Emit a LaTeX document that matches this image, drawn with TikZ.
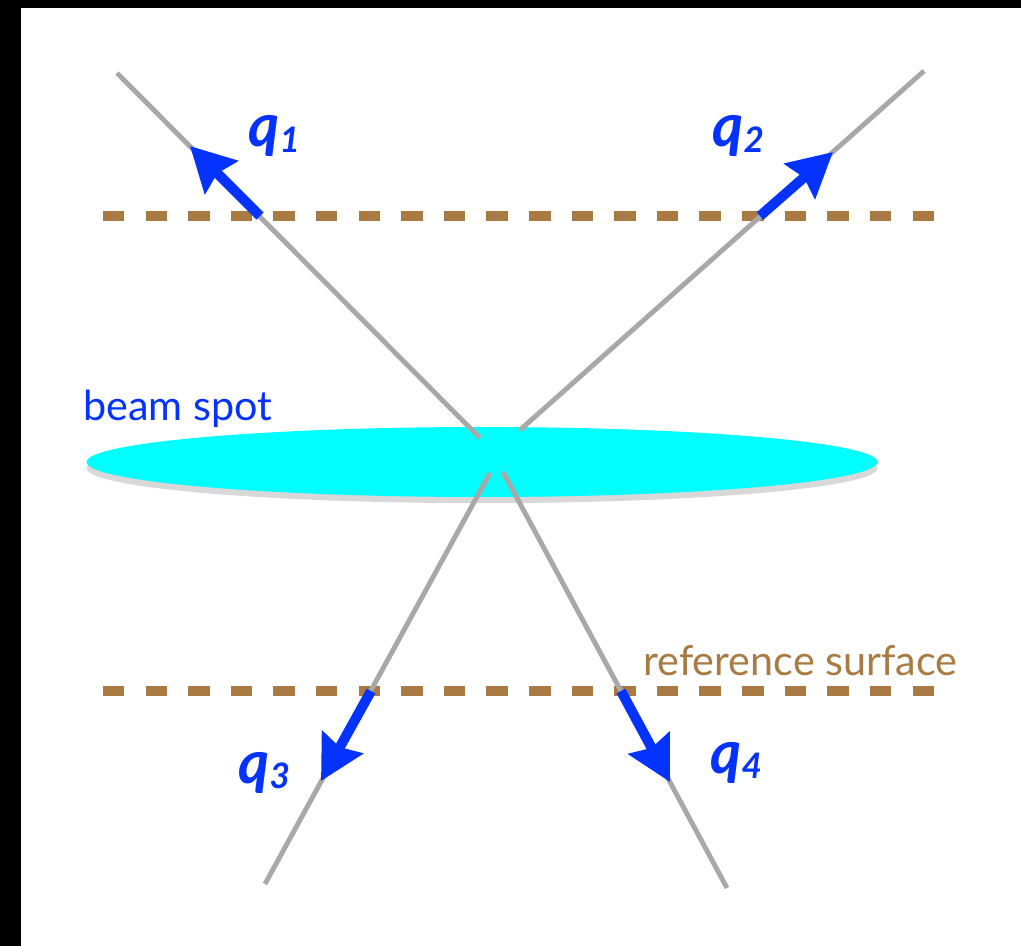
\documentclass[tikz,border=0pt]{standalone}
\usepackage{fontspec}
\setmainfont{Lato}
\usetikzlibrary{arrows.meta,shapes.geometric,shadows}

\definecolor{qblue}{RGB}{4,51,255}
\definecolor{surfbrown}{RGB}{169,123,67}
\definecolor{trackgray}{RGB}{168,168,168}
\definecolor{spotcyan}{RGB}{0,255,255}
\newcommand{\qmom}[1]{q\raisebox{-3.4pt}{\fontsize{20}{20}\selectfont #1}}

\begin{document}
\begin{tikzpicture}[x=0.02cm,y=-0.02cm,
  track/.style={draw=trackgray, line width=2.8pt},
  surface/.style={draw=surfbrown, line width=5.7pt, dash pattern=on 12.2pt off 12.05pt},
  mom/.style={draw=qblue, line width=5.7pt, -{Stealth[length=25pt, width=26pt, inset=3pt]}},
  qlabel/.style={text=qblue, font=\fontsize{34}{36}\selectfont\bfseries\itshape, inner sep=0, anchor=base west},
  plainlabel/.style={font=\fontsize{23.5}{26}\selectfont, inner sep=0, anchor=base west}]
  % frame
  \fill[black] (0,0) rectangle (1021,946);
  \fill[white] (21,8) rectangle (1021,946);
  \useasboundingbox (0,0) rectangle (1021,946);

  % beam spot
  \node (spot) [ellipse, fill=spotcyan, inner sep=0, minimum width=15.82cm, minimum height=1.4cm,
    drop shadow={opacity=0.3, shadow xshift=0pt, shadow yshift=-3.5pt}] at (482,462) {};
  \node (spotlab) [plainlabel, text=qblue] at (83,420) {beam spot};

  % reference surfaces
  \coordinate (upw) at (103,216);
  \coordinate (upe) at (937,216);
  \coordinate (low) at (103,691);
  \coordinate (loe) at (937,691);
  \draw[surface] (upw) -- (upe);
  \draw[surface] (low) -- (loe);
  \node (surflab) [plainlabel, text=surfbrown] at (643,675) {reference surface};

  % tracks
  \coordinate (t1a) at (480,438);  \coordinate (t1b) at (117,73);
  \coordinate (t2a) at (520,430);  \coordinate (t2b) at (924,71);
  \coordinate (t3a) at (490,473);  \coordinate (t3b) at (265,884);
  \coordinate (t4a) at (503,472);  \coordinate (t4b) at (727,888);
  \draw[track] (t1a) -- (t1b);
  \draw[track] (t2a) -- (t2b);
  \draw[track] (t3a) -- (t3b);
  \draw[track] (t4a) -- (t4b);

  % momenta at the surfaces
  \coordinate (m1) at (260,216);  \coordinate (m1tip) at (190,146);
  \coordinate (m2) at (760,216);  \coordinate (m2tip) at (833,152);
  \coordinate (m3) at (371,691);  \coordinate (m3tip) at (321,781);
  \coordinate (m4) at (621,691);  \coordinate (m4tip) at (670,782);
  \draw[mom] (m1) -- (m1tip);
  \draw[mom] (m2) -- (m2tip);
  \draw[mom] (m3) -- (m3tip);
  \draw[mom] (m4) -- (m4tip);

  \node (q1) [qlabel] at (248,147) {\qmom{1}};
  \node (q2) [qlabel] at (712,147) {\qmom{2}};
  \node (q3) [qlabel] at (238,783) {\qmom{3}};
  \node (q4) [qlabel] at (710,773) {\qmom{4}};
\end{tikzpicture}
\end{document}
